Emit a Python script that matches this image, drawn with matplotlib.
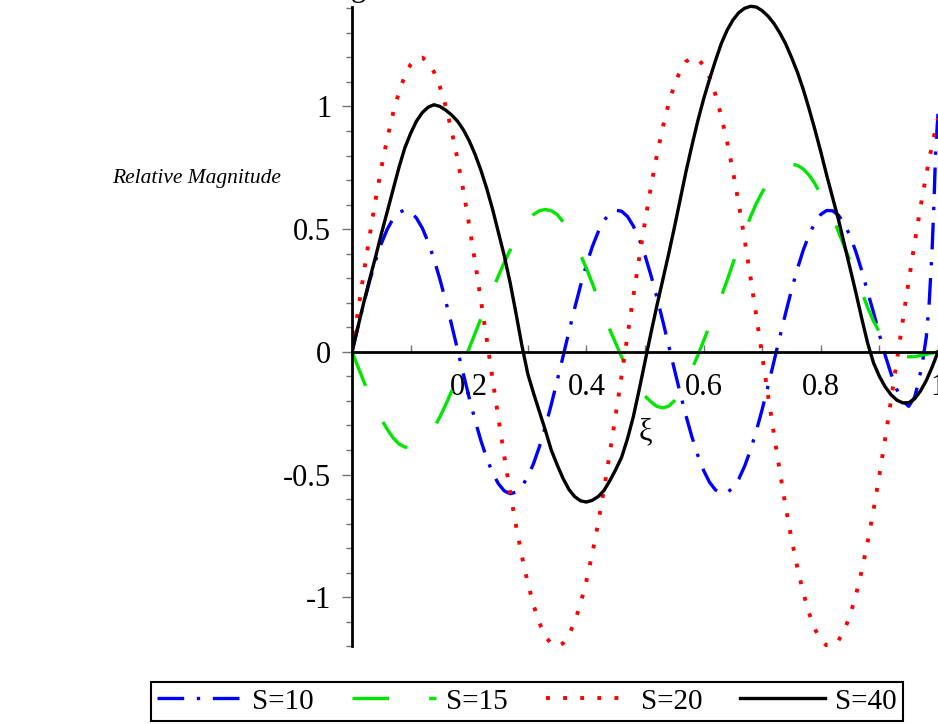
# relative magnitude vs xi for several S values

import numpy as np
import matplotlib
matplotlib.use('Agg')
import matplotlib.pyplot as plt

plt.rcParams['font.family'] = ['Liberation Serif', 'DejaVu Serif']

# sample grid along xi (step 0.01)
xi = np.round(np.arange(0, 101) * 0.01, 2)

# S=20 curve
s20 = [0, 0.161, 0.320, 0.472, 0.616, 0.749, 0.868, 0.972, 1.057, 1.124,
       1.171, 1.195, 1.199, 1.180, 1.140, 1.080, 1.000, 0.901, 0.786, 0.657,
       0.516, 0.366, 0.209, 0.049, -0.113, -0.273, -0.427, -0.574, -0.710, -0.834,
       -0.942, -1.034, -1.106, -1.159, -1.190, -1.200, -1.188, -1.155, -1.100, -1.026,
       -0.933, -0.823, -0.698, -0.560, -0.412, -0.257, -0.097, 0.065, 0.225, 0.381,
       0.531, 0.671, 0.798, 0.912, 1.008, 1.087, 1.145, 1.183, 1.199, 1.194,
       1.167, 1.119, 1.050, 0.962, 0.857, 0.737, 0.603, 0.458, 0.304, 0.145,
       -0.016, -0.177, -0.335, -0.487, -0.630, -0.762, -0.879, -0.981, -1.065, -1.130,
       -1.174, -1.197, -1.198, -1.177, -1.135, -1.073, -0.990, -0.890, -0.774, -0.644,
       -0.502, -0.351, -0.194, -0.033, 0.129, 0.288, 0.442, 0.588, 0.723, 0.845,
       0.952]

# S=10 curve, finer steps near xi=1 where it turns up sharply
s10_x = list(xi[:97]) + [0.965, 0.97, 0.975, 0.98, 0.985, 0.99, 0.993, 0.996, 1.0]
s10 = [0, 0.100, 0.197, 0.288, 0.370, 0.441, 0.499, 0.542, 0.568, 0.578,
       0.570, 0.545, 0.504, 0.447, 0.377, 0.296, 0.206, 0.110, 0.010, -0.090,
       -0.187, -0.279, -0.362, -0.434, -0.494, -0.538, -0.567, -0.578, -0.572, -0.548,
       -0.509, -0.454, -0.385, -0.305, -0.215, -0.119, -0.020, 0.080, 0.178, 0.270,
       0.354, 0.428, 0.488, 0.535, 0.565, 0.577, 0.573, 0.552, 0.513, 0.460,
       0.393, 0.313, 0.225, 0.129, 0.030, -0.070, -0.168, -0.261, -0.346, -0.421,
       -0.483, -0.531, -0.562, -0.577, -0.574, -0.554, -0.518, -0.466, -0.400, -0.322,
       -0.234, -0.139, -0.040, 0.060, 0.158, 0.252, 0.338, 0.414, 0.477, 0.526,
       0.560, 0.576, 0.575, 0.557, 0.522, 0.472, 0.407, 0.330, 0.243, 0.160,
       0.070, -0.015, -0.090, -0.155, -0.200, -0.222, -0.185,
       -0.14, -0.085, -0.02, 0.06, 0.2, 0.42, 0.6, 0.82, 0.97]

# S=15 curve
s15 = [0, -0.06, -0.12, -0.175, -0.23, -0.275, -0.315, -0.35, -0.375, -0.388,
       -0.39, -0.385, -0.37, -0.345, -0.31, -0.265, -0.215, -0.16, -0.105, -0.045,
       0.015, 0.075, 0.135, 0.195, 0.255, 0.31, 0.365, 0.415, 0.46, 0.50,
       0.535, 0.56, 0.575, 0.58, 0.575, 0.56, 0.53, 0.49, 0.445, 0.395,
       0.34, 0.28, 0.215, 0.15, 0.09, 0.035, -0.02, -0.07, -0.11, -0.15,
       -0.18, -0.203, -0.222, -0.228, -0.222, -0.2, -0.17, -0.12, -0.07, -0.015,
       0.045, 0.105, 0.165, 0.225, 0.29, 0.36, 0.43, 0.49, 0.55, 0.605,
       0.65, 0.69, 0.72, 0.745, 0.76, 0.765, 0.76, 0.745, 0.72, 0.685,
       0.64, 0.595, 0.55, 0.49, 0.43, 0.37, 0.31, 0.245, 0.18, 0.125,
       0.08, 0.045, 0.015, -0.005, -0.015, -0.02, -0.02, -0.015, -0.01, -0.005,
       0]

# S=40 curve
s40 = [0, 0.10, 0.20, 0.295, 0.385, 0.48, 0.57, 0.66, 0.75, 0.83,
       0.89, 0.94, 0.975, 0.997, 1.007, 1.0, 0.985, 0.965, 0.94, 0.905,
       0.86, 0.805, 0.74, 0.665, 0.58, 0.485, 0.39, 0.28, 0.155, 0.025,
       -0.09, -0.17, -0.245, -0.32, -0.40, -0.46, -0.515, -0.56, -0.59, -0.607,
       -0.612, -0.605, -0.59, -0.565, -0.525, -0.48, -0.43, -0.355, -0.265, -0.155,
       -0.04, 0.075, 0.185, 0.29, 0.395, 0.505, 0.62, 0.735, 0.84, 0.94,
       1.03, 1.11, 1.185, 1.255, 1.31, 1.352, 1.382, 1.40, 1.408, 1.405,
       1.39, 1.368, 1.338, 1.30, 1.255, 1.20, 1.14, 1.07, 0.99, 0.905,
       0.815, 0.72, 0.63, 0.54, 0.44, 0.34, 0.24, 0.135, 0.035, -0.045,
       -0.10, -0.143, -0.175, -0.197, -0.208, -0.207, -0.192, -0.16, -0.117, -0.062,
       0.0]

# tick labels
yticks = [-1, -0.5, 0, 0.5, 1]
ylabels = ['-1', '-0.5', '0', '0.5', '1']
xticks = [0.2, 0.4, 0.6, 0.8, 1.0]
xlabels = ['0.2', '0.4', '0.6', '0.8', '1']

fig = plt.figure(figsize=(9.38, 7.24), dpi=100)
ax = fig.add_axes([352/938, 77/724, 586/938, 647/724])

# the four curves
ax.plot(s10_x, s10, color=(0, 0, 1), lw=2.4, linestyle=(0, (8, 3.8, 1, 3.8)), label='S=10')
ax.plot(xi, s15, color=(0, 0.9, 0), lw=2.4, linestyle=(0, (11, 12)), label='S=15')
ax.plot(xi, s20, color=(1, 0, 0), lw=2.8, linestyle=(0, (1, 3.4)), label='S=20')
ax.plot(xi, s40, color='black', lw=2.4, label='S=40')

ax.set_xlim(0, 1)
ax.set_ylim(-1.2027, 1.4337)

# axes through the origin, maple style
ax.spines['top'].set_visible(False)
ax.spines['right'].set_visible(False)
ax.spines['left'].set_position(('data', 0))
ax.spines['left'].set_bounds(-1.2, 1.405)
ax.spines['bottom'].set_position(('data', 0))
ax.spines['bottom'].set_bounds(0, 1)
ax.spines['left'].set_linewidth(2)
ax.spines['bottom'].set_linewidth(2)

ax.set_yticks(yticks)
ax.set_yticklabels(ylabels)
ax.set_yticks(np.round(np.arange(-12, 15) * 0.1, 1), minor=True)
ax.set_xticks(xticks)
ax.set_xticklabels(xlabels)
ax.set_xticks([0.1, 0.3, 0.5, 0.7, 0.9], minor=True)

ax.tick_params(axis='y', which='major', direction='out', length=7, width=1,
               color='0.45', labelsize=22, pad=8)
ax.tick_params(axis='y', which='minor', direction='out', length=4, width=1, color='0.45')
ax.tick_params(axis='x', which='both', direction='in', length=5, width=1,
               color='0.45', labelsize=22, pad=15)

# axis labels
ax.text(0.5, -0.325, 'ξ', ha='center', va='center', fontsize=22)
fig.text(281/938, 1 - 178/724, 'Relative Magnitude', ha='right', va='center',
         fontsize=15.5, style='italic')

# bit of the cut off title above the plot
fig.text(358/938, 1 + 4/724, 'g', ha='center', va='baseline', fontsize=22)

leg = fig.legend(loc='center', bbox_to_anchor=(527/938, 1 - 701.5/724), ncol=4,
                 fontsize=21, frameon=True, fancybox=False, edgecolor='black',
                 framealpha=1, handlelength=2.9, handletextpad=0.35,
                 columnspacing=1.3, borderpad=0.2, borderaxespad=0)
leg.get_frame().set_linewidth(1.5)

fig.savefig('out.png', dpi=100)
